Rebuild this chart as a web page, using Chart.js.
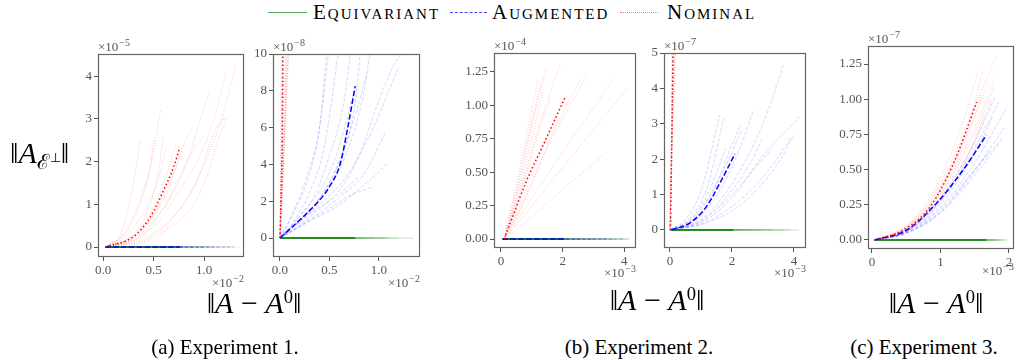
<!DOCTYPE html>
<html>
<head>
<meta charset="utf-8">
<script src="https://cdn.jsdelivr.net/npm/chart.js@4.4.1/dist/chart.umd.min.js"></script>
<style>
  body { margin: 0; width: 1016px; height: 360px; position: relative; overflow: hidden; background: #fff; font-family: "Liberation Serif", serif; color: #000; }
  canvas { position: absolute; }
  .txt { position: absolute; white-space: nowrap; }
  .ctr { transform: translate(-50%, -50%); }
  .leg { position: absolute; height: 0; }
  .legtxt { font-size: 21px; font-variant: small-caps; line-height: 20px; top: 2px; letter-spacing: 2px; }
  sup { font-size: 0.62em; vertical-align: 0.55em; }
  sub { font-size: 0.7em; vertical-align: -0.3em; }
</style>
</head>
<body>

<div class="leg" style="left:268px;top:12px;width:39px;border-top:1.3px solid #5a5"></div>
<div class="txt legtxt" style="left:313px">Equivariant</div>
<div class="leg" style="left:450px;top:12px;width:37px;border-top:1px dashed #44f"></div>
<div class="txt legtxt" style="left:492px">Augmented</div>
<div class="leg" style="left:620px;top:12px;width:38px;border-top:1px dotted #f77"></div>
<div class="txt legtxt" style="left:667px">Nominal</div>

<canvas id="p1"></canvas>
<canvas id="p2"></canvas>
<canvas id="p3"></canvas>
<canvas id="p4"></canvas>
<canvas id="p5"></canvas>

<div class="txt" style="left:10px;top:156px;transform:translateY(-50%);font-size:30px">‖<i>A</i><sub>ℰ<sup>⊥</sup></sub>‖</div>

<div class="txt ctr" style="left:254px;top:303px;font-size:30px">‖<i>A</i> − <i>A</i><sup>0</sup>‖</div>
<div class="txt ctr" style="left:657px;top:300px;font-size:30px">‖<i>A</i> − <i>A</i><sup>0</sup>‖</div>
<div class="txt ctr" style="left:936px;top:303px;font-size:30px">‖<i>A</i> − <i>A</i><sup>0</sup>‖</div>

<div class="txt ctr" style="left:225px;top:347px;font-size:21px">(a) Experiment 1.</div>
<div class="txt ctr" style="left:639px;top:347px;font-size:21px">(b) Experiment 2.</div>
<div class="txt ctr" style="left:924px;top:347px;font-size:21px">(c) Experiment 3.</div>

<script>
// ---- Experiment 1, left panel (x in 1e-2, y in 1e-5)
const p1NominalRuns = [
  [[0.02,0],[0.15,0.2],[0.25,0.9],[0.33,1.9],[0.37,2.5]],
  [[0.02,0],[0.2,0.3],[0.35,1.0],[0.48,2.0],[0.57,3.2]],
  [[0.02,0],[0.2,0.2],[0.4,0.8],[0.55,1.6],[0.62,2.3]],
  [[0.02,0],[0.25,0.2],[0.45,0.7],[0.6,1.5],[0.72,2.4]],
  [[0.02,0],[0.3,0.2],[0.5,0.6],[0.7,1.3],[0.85,2.1],[0.95,2.9],[1.05,3.6]],
  [[0.02,0],[0.3,0.15],[0.55,0.6],[0.75,1.3],[0.95,2.1],[1.1,3.0],[1.22,4.1]],
  [[0.02,0],[0.35,0.15],[0.6,0.5],[0.85,1.2],[1.05,2.2],[1.2,3.2],[1.32,4.3]],
  [[0.02,0],[0.4,0.1],[0.65,0.45],[0.9,1.0],[1.05,1.8],[1.15,2.6],[1.22,3.0]],
  [[0.02,0],[0.3,0.3],[0.45,0.9],[0.55,1.8],[0.6,2.6]],
  [[0.02,0],[0.25,0.4],[0.38,1.1],[0.47,1.9],[0.5,2.5]],
  [[0.02,0],[0.35,0.3],[0.55,0.9],[0.7,1.7],[0.8,2.4],[0.88,2.8]],
  [[0.02,0],[0.45,0.2],[0.7,0.7],[0.9,1.4],[1.0,2.0],[1.1,2.7],[1.2,3.0]],
  [[0.02,0],[0.3,0.25],[0.5,0.75],[0.65,1.5],[0.75,2.0]],
  [[0.02,0],[0.4,0.3],[0.6,0.9],[0.75,1.6],[0.9,2.3],[1.0,2.6]]
];
const p1NominalMean = [[0.02,0],[0.30,0.24],[0.47,0.71],[0.60,1.33],[0.70,1.88],[0.76,2.33]];
const p1AugmentedEnds = [1.35, 1.25, 1.15, 1.05, 1.0, 0.9, 0.8, 0.7];
const p1AugmentedMeanEnd = 0.76;
const p1EquivariantEnds = [1.3, 1.1, 1.0, 0.9, 0.8];
const p1EquivariantMeanEnd = 0.76;
const p1XTicks = [0, 0.5, 1.0];
const p1XLabels = ['0.0', '0.5', '1.0'];
const p1YTicks = [0, 1, 2, 3, 4];
const p1YLabels = ['0', '1', '2', '3', '4'];

// ---- Experiment 1, right panel (x in 1e-2, y in 1e-8)
const p2NominalRuns = [
  [[0.0,0],[0.02,5],[0.04,11]],
  [[0.0,0],[0.03,5],[0.06,11]],
  [[0.01,0],[0.04,5],[0.08,11]],
  [[0.0,0],[0.05,6],[0.1,11]],
  [[0.0,0],[0.015,6],[0.025,11]],
  [[0.0,0],[0.035,4],[0.07,11]],
  [[0.0,0],[0.06,7],[0.09,11]],
  [[0.0,0],[0.01,4],[0.015,11]]
];
const p2NominalMean = [[0.0,0],[0.015,3],[0.025,6],[0.03,11]];
const p2AugmentedRuns = [
  [[0,0],[0.1,1],[0.25,3],[0.4,6],[0.5,10.5]],
  [[0,0],[0.15,1],[0.3,2.5],[0.45,5],[0.6,10.5]],
  [[0,0],[0.2,1.2],[0.35,2.3],[0.5,4.5],[0.65,7.5],[0.72,10.5]],
  [[0,0],[0.2,1],[0.4,2.2],[0.6,4.2],[0.75,7],[0.82,10.5]],
  [[0,0],[0.25,1.2],[0.5,2.8],[0.7,5],[0.85,8],[0.92,10.5]],
  [[0,0],[0.3,1.3],[0.6,2.6],[0.8,4.5],[1.0,7.5],[1.15,9.4],[1.22,10]],
  [[0,0],[0.3,1.0],[0.6,2.2],[0.85,3.5],[1.0,5],[1.06,5.7]],
  [[0,0],[0.3,0.9],[0.6,1.8],[0.85,2.9],[1.0,3.6],[1.09,4.1]],
  [[0,0],[0.25,1.5],[0.45,3],[0.6,5],[0.75,8]],
  [[0,0],[0.2,0.7],[0.45,1.8],[0.65,2.6],[0.8,3.4]],
  [[0,0],[0.15,1.5],[0.3,3.5],[0.4,6],[0.48,10.5]],
  [[0,0],[0.3,1.5],[0.55,3.5],[0.75,6.5],[0.88,9]],
  [[0,0],[0.35,1.6],[0.65,3.2],[0.9,5.5],[1.1,8],[1.2,9.3]],
  [[0,0],[0.25,0.8],[0.5,1.6],[0.7,2.3],[0.95,2.8]]
];
const p2AugmentedMean = [[0,0],[0.2,0.98],[0.37,1.88],[0.5,2.79],[0.61,4.06],[0.68,5.87],[0.76,8.26]];
const p2EquivariantEnds = [1.35, 1.2, 1.1, 1.05, 0.95, 0.85];
const p2EquivariantMeanEnd = 0.76;
const p2XTicks = [0, 0.5, 1.0];
const p2XLabels = ['0.0', '0.5', '1.0'];
const p2YTicks = [0, 2, 4, 6, 8, 10];
const p2YLabels = ['0', '2', '4', '6', '8', '10'];

// ---- Experiment 2, left panel (x in 1e-3, y in 1e-4)
const p3NominalRuns = [
  [[0.1,0],[0.4,0.3],[0.8,0.75],[1.2,1.19]],
  [[0.1,0],[0.45,0.28],[1.0,0.85],[1.48,1.29]],
  [[0.1,0],[0.5,0.27],[1.2,0.82],[1.92,1.31]],
  [[0.1,0],[0.6,0.22],[1.5,0.68],[2.83,1.24]],
  [[0.1,0],[0.7,0.2],[2.0,0.65],[3.7,1.21]],
  [[0.1,0],[0.8,0.19],[2.3,0.62],[4.12,1.13]],
  [[0.1,0],[0.8,0.13],[2.0,0.37],[3.43,0.65]],
  [[0.1,0],[0.5,0.3],[1.0,0.75],[1.35,1.1]],
  [[0.1,0],[0.55,0.28],[1.2,0.78],[1.6,1.05]],
  [[0.1,0],[0.7,0.25],[1.7,0.8],[2.6,1.2]],
  [[0.1,0],[0.45,0.32],[0.9,0.78],[1.3,1.18]],
  [[0.1,0],[0.6,0.25],[1.3,0.65],[1.8,0.93]]
];
const p3NominalMean = [[0.1,0],[0.35,0.15],[0.8,0.42],[1.4,0.72],[2.08,1.06]];
const p3AugmentedEnds = [4.2, 4.0, 3.7, 3.4, 3.0, 2.6, 2.2, 1.9];
const p3AugmentedMeanEnd = 2.08;
const p3EquivariantEnds = [4.16, 4.0, 3.7, 3.4, 3.0, 2.6, 2.2];
const p3EquivariantMeanEnd = 2.08;
const p3XTicks = [0, 2, 4];
const p3XLabels = ['0', '2', '4'];
const p3YTicks = [0, 0.25, 0.5, 0.75, 1.0, 1.25];
const p3YLabels = ['0.00', '0.25', '0.50', '0.75', '1.00', '1.25'];

// ---- Experiment 2, right panel (x in 1e-3, y in 1e-7)
const p4NominalRuns = [
  [[0,0],[0.05,2],[0.1,5.5]],
  [[0,0],[0.08,3],[0.15,5.5]],
  [[0,0],[0.1,3],[0.2,5.5]],
  [[0,0],[0.04,3],[0.07,5.5]],
  [[0,0],[0.12,4],[0.18,5.5]],
  [[0,0],[0.06,2.5],[0.13,5.5]]
];
const p4NominalMean = [[0.02,0],[0.06,2.5],[0.11,5.5]];
const p4AugmentedRuns = [
  [[0,0],[0.5,0.3],[1.0,1.1],[1.61,3.25]],
  [[0,0],[0.6,0.3],[1.2,1.2],[1.75,3.2]],
  [[0,0],[0.7,0.25],[1.4,1.1],[2.0,2.4],[2.3,3.0]],
  [[0,0],[0.8,0.25],[1.6,1.1],[2.3,2.4],[2.7,3.4]],
  [[0,0],[1.0,0.3],[2.0,1.3],[3.0,3.0],[3.66,4.66]],
  [[0,0],[0.9,0.2],[1.8,0.9],[2.6,1.9],[3.0,2.6]],
  [[0,0],[1.0,0.2],[2.0,0.9],[3.0,2.1],[4.19,3.2]],
  [[0,0],[1.1,0.2],[2.2,0.8],[3.2,1.7],[3.9,2.6]],
  [[0,0],[1.2,0.2],[2.4,0.8],[3.5,1.9],[4.0,2.7]],
  [[0,0],[0.7,0.3],[1.3,1.0],[1.9,2.0],[2.3,2.8]],
  [[0,0],[1.0,0.25],[1.9,0.9],[2.8,1.8],[3.3,2.3]],
  [[0,0],[0.6,0.25],[1.1,0.8],[1.5,1.6],[1.8,2.3]]
];
const p4AugmentedMean = [[0.05,0],[0.65,0.2],[1.18,0.66],[1.61,1.32],[2.1,2.15]];
const p4EquivariantEnds = [4.16, 3.9, 3.66, 3.3, 3.0, 2.7, 2.3];
const p4EquivariantMeanEnd = 2.05;
const p4XTicks = [0, 2, 4];
const p4XLabels = ['0', '2', '4'];
const p4YTicks = [0, 1, 2, 3, 4, 5];
const p4YLabels = ['0', '1', '2', '3', '4', '5'];

// ---- Experiment 3 (x in 1e-3, y in 1e-7)
const p5NominalRuns = [
  [[0.04,0],[0.5,0.1],[1.0,0.4],[1.5,0.95],[1.82,1.31]],
  [[0.04,0],[0.5,0.09],[1.0,0.38],[1.4,0.8],[1.62,1.2]],
  [[0.04,0],[0.5,0.08],[1.0,0.33],[1.5,0.8],[1.8,1.15]],
  [[0.04,0],[0.5,0.07],[1.0,0.3],[1.5,0.7],[1.75,1.0]],
  [[0.04,0],[0.5,0.1],[0.9,0.35],[1.3,0.8],[1.55,1.2]],
  [[0.04,0],[0.5,0.06],[1.0,0.28],[1.4,0.6],[1.65,0.9]],
  [[0.04,0],[0.5,0.09],[1.0,0.36],[1.45,0.83],[1.7,1.12]],
  [[0.04,0],[0.5,0.075],[1.0,0.32],[1.5,0.76],[1.78,1.08]],
  [[0.04,0],[0.5,0.085],[1.0,0.35],[1.4,0.75],[1.6,1.02]]
];
const p5NominalMean = [[0.04,0],[0.46,0.071],[0.85,0.237],[1.19,0.545],[1.53,0.98]];
const p5AugmentedRuns = [
  [[0.04,0],[0.5,0.05],[1.0,0.2],[1.5,0.5],[1.94,0.8]],
  [[0.04,0],[0.5,0.06],[1.0,0.25],[1.5,0.62],[1.77,0.88]],
  [[0.04,0],[0.5,0.07],[1.0,0.3],[1.5,0.7],[1.8,1.02]],
  [[0.04,0],[0.5,0.05],[1.0,0.22],[1.5,0.5],[1.9,0.72]],
  [[0.04,0],[0.5,0.06],[1.0,0.27],[1.4,0.55],[1.65,0.75]],
  [[0.04,0],[0.5,0.05],[1.0,0.2],[1.4,0.42],[1.7,0.62]],
  [[0.04,0],[0.5,0.055],[1.0,0.23],[1.5,0.55],[1.98,0.95]],
  [[0.04,0],[0.5,0.065],[1.0,0.28],[1.5,0.66],[1.85,0.98]],
  [[0.04,0],[0.5,0.045],[1.0,0.19],[1.5,0.46],[1.88,0.7]]
];
const p5AugmentedMean = [[0.04,0],[0.51,0.071],[0.94,0.26],[1.33,0.497],[1.67,0.745]];
const p5EquivariantEnds = [1.98, 1.94, 1.9, 1.85, 1.8, 1.77];
const p5EquivariantMeanEnd = 1.67;
const p5XTicks = [0, 1, 2];
const p5XLabels = ['0', '1', '2'];
const p5YTicks = [0, 0.25, 0.5, 0.75, 1.0, 1.25];
const p5YLabels = ['0.00', '0.25', '0.50', '0.75', '1.00', '1.25'];

const SERIF = '"Liberation Serif", serif';
const GREEN = '#008000', BLUE = '#0000ff', RED = '#ff0000';
const GREEN_F = 'rgba(0,128,0,0.22)', BLUE_F = 'rgba(0,0,255,0.16)', RED_F = 'rgba(255,0,0,0.24)';
const DASH = [3.7, 1.6], DOT = [1, 1.65], DASH_B = [5.5, 2.4], DOT_B = [1.5, 2.5];

function lines(runs, color, dash, width, order) {
  return runs.map(r => ({
    data: r.map(p => ({ x: p[0], y: p[1] })),
    borderColor: color,
    borderDash: dash,
    borderWidth: width,
    pointRadius: 0,
    fill: false,
    cubicInterpolationMode: 'monotone',
    order
  }));
}

function flat(x0, ends) {
  return ends.map(e => [[x0, 0], [e, 0]]);
}

// "×10" with a raised exponent, left edge at x, baseline at y
function drawOffset(ctx, exp, x, y, alignRight) {
  ctx.font = '13px ' + SERIF;
  const base = '×10';
  const wb = ctx.measureText(base).width;
  ctx.font = '10px ' + SERIF;
  const we = ctx.measureText(exp).width;
  const x0 = alignRight ? x - wb - we - 1 : x;
  ctx.textAlign = 'left';
  ctx.textBaseline = 'alphabetic';
  ctx.font = '13px ' + SERIF;
  ctx.fillText(base, x0, y);
  ctx.font = '10px ' + SERIF;
  ctx.fillText(exp, x0 + wb + 1, y - 5);
}

// frame on all four sides + offset (exponent) labels
const framePlugin = {
  id: 'frame',
  afterDraw(chart, args, opts) {
    const { ctx, chartArea: a } = chart;
    ctx.save();
    ctx.strokeStyle = '#666';
    ctx.lineWidth = 1.2;
    ctx.setLineDash([]);
    ctx.strokeRect(Math.round(a.left) + 0.5, Math.round(a.top) + 0.5,
      Math.round(a.right - a.left) - 1, Math.round(a.bottom - a.top) - 1);
    ctx.fillStyle = '#555';
    if (opts.yExp) drawOffset(ctx, opts.yExp, a.left, a.top - 3, false);
    if (opts.xExp) drawOffset(ctx, opts.xExp, a.right, a.bottom + opts.xExpDy + 4, true);
    ctx.restore();
  }
};

function axis(min, max, ticks, labels, isX) {
  return {
    type: 'linear',
    min, max,
    afterBuildTicks: s => { s.ticks = ticks.map(v => ({ value: v })); },
    afterFit: s => { if (isX) s.height = 32; else s.width = 45; },
    ticks: {
      callback: (v, i) => labels[i],
      font: { family: SERIF, size: 13 },
      color: '#555',
      padding: 2,
      maxRotation: 0,
      autoSkip: false
    },
    grid: { display: true, drawOnChartArea: false, drawTicks: true, tickLength: 4, color: '#555' },
    border: { display: false }
  };
}

function makePanel(id, box, xr, yr, xT, xL, yT, yL, yExp, xExp, xExpDy, datasets) {
  const cv = document.getElementById(id);
  const w = box.r - box.l + 45 + 8;
  const h = box.b - box.t + 20 + 32;
  cv.width = w; cv.height = h;
  cv.style.left = (box.l - 45) + 'px';
  cv.style.top = (box.t - 20) + 'px';
  cv.style.width = w + 'px';
  cv.style.height = h + 'px';
  new Chart(cv.getContext('2d'), {
    type: 'line',
    data: { datasets },
    options: {
      responsive: false,
      animation: false,
      devicePixelRatio: 1,
      layout: { padding: { top: 20, right: 8, left: 0, bottom: 0 } },
      plugins: {
        legend: { display: false },
        tooltip: { enabled: false },
        frame: { yExp, xExp, xExpDy }
      },
      scales: {
        x: axis(xr[0], xr[1], xT, xL, true),
        y: axis(yr[0], yr[1], yT, yL, false)
      }
    },
    plugins: [framePlugin]
  });
}

makePanel('p1', { l: 98, t: 54, r: 244, b: 257 }, [-0.05, 1.396], [-0.234, 4.52],
  p1XTicks, p1XLabels, p1YTicks, p1YLabels, '−5', '−2', 26, [
    ...lines(flat(0.02, p1EquivariantEnds), GREEN_F, [], 1, 6),
    ...lines(flat(0.02, p1AugmentedEnds), BLUE_F, DASH, 1, 5),
    ...lines(p1NominalRuns, RED_F, DOT, 1, 4),
    ...lines([[[0.02, 0], [p1EquivariantMeanEnd, 0]]], GREEN, [], 1.5, 3),
    ...lines([[[0.02, 0], [p1AugmentedMeanEnd, 0]]], BLUE, DASH_B, 1.5, 2),
    ...lines([p1NominalMean], RED, DOT_B, 1.5, 1)
  ]);

makePanel('p2', { l: 273, t: 54, r: 420, b: 257 }, [-0.07, 1.414], [-1.03, 10],
  p2XTicks, p2XLabels, p2YTicks, p2YLabels, '−8', '−2', 26, [
    ...lines(flat(0.0, p2EquivariantEnds), GREEN_F, [], 1, 6),
    ...lines(p2AugmentedRuns, BLUE_F, DASH, 1, 5),
    ...lines(p2NominalRuns, RED_F, DOT, 1, 4),
    ...lines([[[0.0, 0], [p2EquivariantMeanEnd, 0]]], GREEN, [], 1.5, 3),
    ...lines([p2AugmentedMean], BLUE, DASH_B, 1.5, 2),
    ...lines([p2NominalMean], RED, DOT_B, 1.5, 1)
  ]);

makePanel('p3', { l: 494, t: 53, r: 636, b: 248 }, [-0.227, 4.38], [-0.067, 1.392],
  p3XTicks, p3XLabels, p3YTicks, p3YLabels, '−4', '−3', 25, [
    ...lines(flat(0.05, p3EquivariantEnds), GREEN_F, [], 1, 6),
    ...lines(flat(0.05, p3AugmentedEnds), BLUE_F, DASH, 1, 5),
    ...lines(p3NominalRuns, RED_F, DOT, 1, 4),
    ...lines([[[0.05, 0], [p3EquivariantMeanEnd, 0]]], GREEN, [], 1.5, 3),
    ...lines([[[0.05, 0], [p3AugmentedMeanEnd, 0]]], BLUE, DASH_B, 1.5, 2),
    ...lines([p3NominalMean], RED, DOT_B, 1.5, 1)
  ]);

makePanel('p4', { l: 664, t: 53, r: 806, b: 248 }, [-0.19, 4.39], [-0.51, 5],
  p4XTicks, p4XLabels, p4YTicks, p4YLabels, '−7', '−3', 25, [
    ...lines(flat(0.05, p4EquivariantEnds), GREEN_F, [], 1, 6),
    ...lines(p4AugmentedRuns, BLUE_F, DASH, 1, 5),
    ...lines(p4NominalRuns, RED_F, DOT, 1, 4),
    ...lines([[[0.05, 0], [p4EquivariantMeanEnd, 0]]], GREEN, [], 1.5, 3),
    ...lines([p4AugmentedMean], BLUE, DASH_B, 1.5, 2),
    ...lines([p4NominalMean], RED, DOT_B, 1.5, 1)
  ]);

makePanel('p5', { l: 868, t: 46, r: 1014, b: 249 }, [-0.058, 2.073], [-0.064, 1.378],
  p5XTicks, p5XLabels, p5YTicks, p5YLabels, '−7', '−3', 22, [
    ...lines(flat(0.04, p5EquivariantEnds), GREEN_F, [], 1, 6),
    ...lines(p5AugmentedRuns, BLUE_F, DASH, 1, 5),
    ...lines(p5NominalRuns, RED_F, DOT, 1, 4),
    ...lines([[[0.04, 0], [p5EquivariantMeanEnd, 0]]], GREEN, [], 1.5, 3),
    ...lines([p5AugmentedMean], BLUE, DASH_B, 1.5, 2),
    ...lines([p5NominalMean], RED, DOT_B, 1.5, 1)
  ]);
</script>
</body>
</html>
